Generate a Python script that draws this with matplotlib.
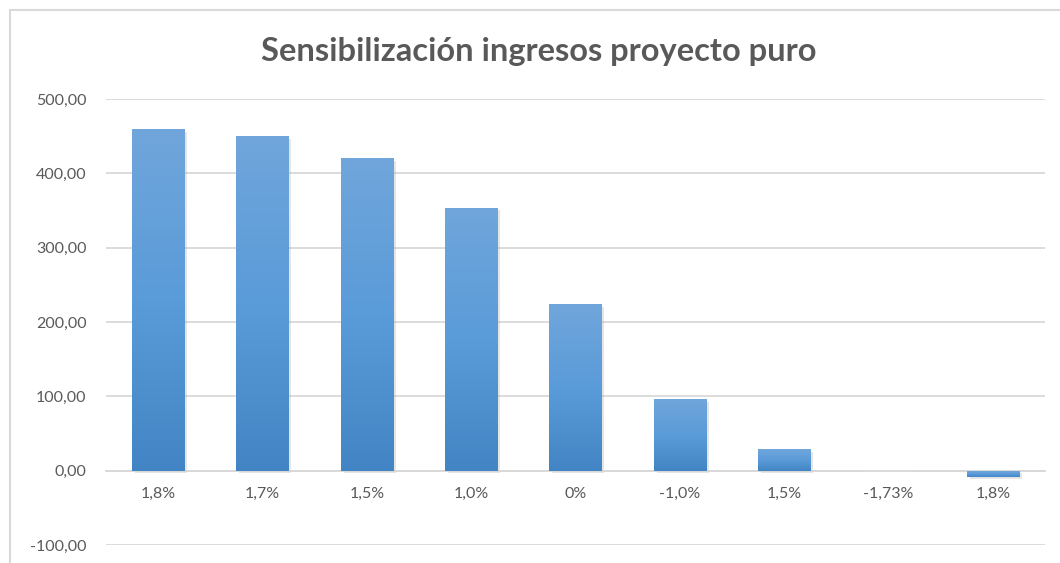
import numpy as np
import matplotlib.pyplot as plt
import matplotlib.patheffects as pe
from matplotlib.colors import LinearSegmentedColormap
from matplotlib.patches import Rectangle

# data
categorias = ['1,8%', '1,7%', '1,5%', '1,0%', '0%', '-1,0%', '1,5%', '-1,73%', '1,8%']
valores = [459, 450, 420, 354, 224, 96, 29, 0, -8]
ticks_y = [-100, 0, 100, 200, 300, 400, 500]

plt.rcParams['font.family'] = ['Lato', 'DejaVu Sans']

fig = plt.figure(figsize=(10.6, 5.63), dpi=100)
# chart border like excel
fig.patches.append(Rectangle((10 / 1060, -0.05), 1.1, 1 - 10 / 563 + 0.05, transform=fig.transFigure,
                             fill=False, edgecolor='#d9d9d9', linewidth=1.5))

ax = fig.add_axes([106 / 1060, 1 - 545 / 563, (1045 - 106) / 1060, (545 - 99) / 563])
ax.set_yticks(ticks_y)
ax.set_yticklabels(['{:.2f}'.format(v).replace('.', ',') for v in ticks_y])
ax.grid(axis='y', color='#d9d9d9', linewidth=1.3, zorder=0)
ax.set_axisbelow(True)
for s in ['top', 'right', 'left']:
    ax.spines[s].set_visible(False)
ax.spines['bottom'].set_position(('data', 0))
ax.spines['bottom'].set_color('#d9d9d9')
ax.spines['bottom'].set_linewidth(1.3)
ax.tick_params(axis='y', length=0, pad=14, labelsize=11.5, labelcolor='#595959')
ax.tick_params(axis='x', length=0, pad=12, labelsize=11.5, labelcolor='#595959')
ax.set_xticks(range(len(categorias)))
ax.set_xticklabels(categorias)

cmap = LinearSegmentedColormap.from_list('azul', ['#4384c4', '#5a9bd9', '#70a6db'])
grad = np.linspace(0, 1, 256).reshape(-1, 1)
bars = ax.bar(range(len(categorias)), valores, width=0.5, color='#5b9bd5', zorder=2,
              path_effects=[pe.SimplePatchShadow(offset=(2, -2), shadow_rgbFace='#999999', alpha=0.25),
                            pe.Normal()])
for b, v in zip(bars, valores):
    if v == 0:
        continue
    x0 = b.get_x()
    y0, y1 = min(0, v), max(0, v)
    im = ax.imshow(grad, cmap=cmap, origin='lower', aspect='auto',
                   extent=(x0, x0 + b.get_width(), y0, y1), zorder=3)
    im.set_clip_path(b)
# faint mark of the near-zero bar
ax.bar(7, -1.5, width=0.5, color='#eeeeee', zorder=1)
ax.set_xlim(-0.5, len(categorias) - 0.5)
ax.set_ylim(-100, 500)

fig.text(0.508, 1 - 51 / 563, 'Sensibilización ingresos proyecto puro', ha='center', va='center',
         fontsize=23.5, fontweight='bold', color='#595959')

fig.savefig('out.png', dpi=100)
